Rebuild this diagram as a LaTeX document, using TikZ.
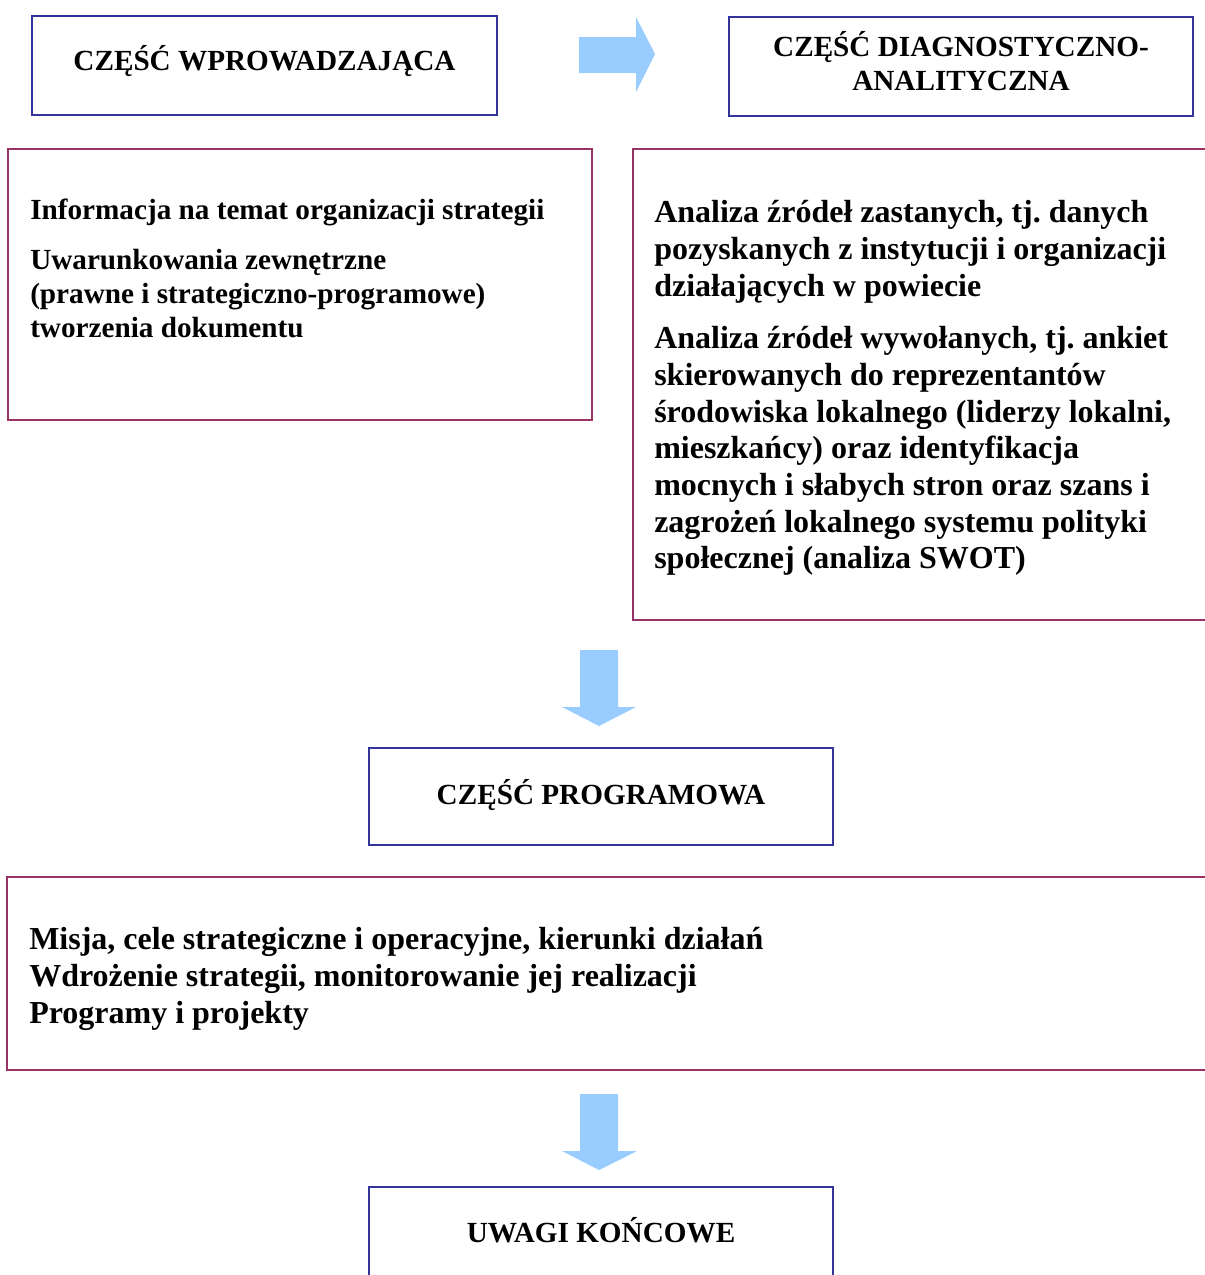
\documentclass[tikz,border=0pt]{standalone}
\usepackage{fontspec}
\setmainfont{Liberation Serif}
\frenchspacing
\definecolor{boxblue}{HTML}{333399}
\definecolor{boxpurple}{HTML}{993366}
\definecolor{arrowblue}{HTML}{99CCFF}
\tikzset{
  headbox/.style={draw=boxblue, line width=1.5pt},
  textbox/.style={draw=boxpurple, line width=1.5pt},
  bigarrow/.style={fill=arrowblue, draw=none},
  head/.style={font=\fontsize{21.9}{25.5}\selectfont\bfseries, inner sep=0pt, anchor=base},
  smalltxt/.style={font=\fontsize{21.9}{25.5}\selectfont\bfseries, inner sep=0pt, anchor=base west},
  bigtxt/.style={font=\fontsize{24}{27.75}\selectfont\bfseries, inner sep=0pt, anchor=base west},
}
\begin{document}
\begin{tikzpicture}[x=0.75pt,y=-0.75pt]
\useasboundingbox (0,0) rectangle (1205,1275);
\clip (0,0) rectangle (1205,1275);
% top boxes
\draw[headbox] (32,16) rectangle (497,115);
\node[head] (wpr) at (264.5,70) {CZĘŚĆ WPROWADZAJĄCA};
\draw[headbox] (729,17) rectangle (1193,116);
\node[head] (diag1) at (961,56) {CZĘŚĆ DIAGNOSTYCZNO-};
\node[head] (diag2) at (961,90) {ANALITYCZNA};
% right arrow
\fill[bigarrow] (579,37) -- (636,37) -- (636,17) -- (655,54) -- (636,92) -- (636,73) -- (579,73) -- cycle;
% left content box
\draw[textbox] (8,149) rectangle (592,420);
\node[smalltxt] (a1) at (30,219) {Informacja na temat organizacji strategii};
\node[smalltxt] (a2) at (30,269) {Uwarunkowania zewnętrzne};
\node[smalltxt] (a3) at (30,303) {(prawne i strategiczno-programowe)};
\node[smalltxt] (a4) at (30,337) {tworzenia dokumentu};
% right content box
\draw[textbox] (633,149) rectangle (1215,620);
\node[bigtxt] (b1) at (654,222) {Analiza źródeł zastanych, tj. danych};
\node[bigtxt] (b2) at (654,259) {pozyskanych z instytucji i organizacji};
\node[bigtxt] (b3) at (654,296) {działających w powiecie};
\node[bigtxt] (b4) at (654,348) {Analiza źródeł wywołanych, tj. ankiet};
\node[bigtxt] (b5) at (654,385) {skierowanych do reprezentantów};
\node[bigtxt] (b6) at (654,422) {środowiska lokalnego (liderzy lokalni,};
\node[bigtxt] (b7) at (654,458) {mieszkańcy) oraz identyfikacja};
\node[bigtxt] (b8) at (654,495) {mocnych i słabych stron oraz szans i};
\node[bigtxt] (b9) at (654,532) {zagrożeń lokalnego systemu polityki};
\node[bigtxt] (b10) at (654,568) {społecznej (analiza SWOT)};
% down arrow 1
\fill[bigarrow] (580,650) -- (618,650) -- (618,707) -- (636,707) -- (599,726) -- (562,707) -- (580,707) -- cycle;
% programowa
\draw[headbox] (369,748) rectangle (833,845);
\node[head] (prog) at (601,804) {CZĘŚĆ PROGRAMOWA};
\draw[textbox] (7,877) rectangle (1215,1070);
\node[bigtxt] (c1) at (29,949) {Misja, cele strategiczne i operacyjne, kierunki działań};
\node[bigtxt] (c2) at (29,986) {Wdrożenie strategii, monitorowanie jej realizacji};
\node[bigtxt] (c3) at (29,1023) {Programy i projekty};
% down arrow 2
\fill[bigarrow] (580,1094) -- (618,1094) -- (618,1151) -- (637,1151) -- (599,1170) -- (562,1151) -- (580,1151) -- cycle;
% uwagi
\draw[headbox] (369,1187) rectangle (833,1290);
\node[head] (uwagi) at (601,1242) {UWAGI KOŃCOWE};
\end{tikzpicture}
\end{document}
